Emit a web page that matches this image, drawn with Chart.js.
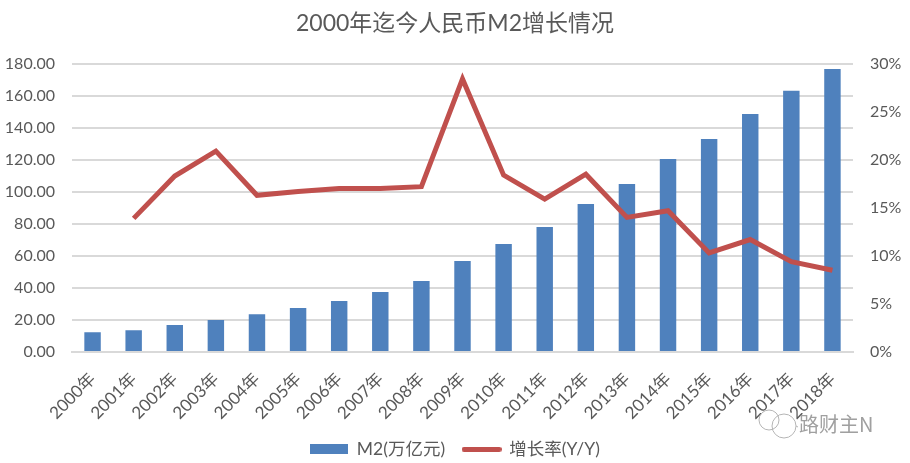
<!DOCTYPE html>
<html>
<head>
<meta charset="utf-8">
<style>
  html, body { margin: 0; padding: 0; background: #fff; }
  canvas { display: block; }
</style>
<script src="https://cdn.jsdelivr.net/npm/chart.js@4/dist/chart.umd.min.js"></script>
</head>
<body>
<canvas id="chart" width="910" height="463"></canvas>
<script>
const years = ['2000年', '2001年', '2002年', '2003年', '2004年', '2005年', '2006年', '2007年', '2008年', '2009年',
  '2010年', '2011年', '2012年', '2013年', '2014年', '2015年', '2016年', '2017年', '2018年'];
const m2 = [12.4, 13.6, 16.8, 19.9, 23.6, 27.4, 31.8, 37.4, 44.3, 56.8,
  67.4, 78.0, 92.3, 104.9, 120.5, 133.0, 148.6, 163.0, 176.7];
const growth = [null, 13.9, 18.3, 20.9, 16.3, 16.7, 17.0, 17.0, 17.2, 28.4,
  18.4, 15.9, 18.5, 14.0, 14.7, 10.3, 11.7, 9.4, 8.5];

const BLUE = '#4f81bd';
const RED = '#c0504d';
const TEXT = '#595959';
const GRID = '#d9d9d9';
const FONT = 'Lato, "Noto Sans CJK SC", sans-serif';

// legend swatches, bar and line have different heights
function swatch(w, h, color, round) {
  const c = document.createElement('canvas');
  c.width = w;
  c.height = h;
  const x = c.getContext('2d');
  x.fillStyle = color;
  x.beginPath();
  x.roundRect(0, 0, w, h, round);
  x.fill();
  return c;
}

const watermark = {
  id: 'watermark',
  afterDraw(chart) {
    const ctx = chart.ctx;
    ctx.save();
    ctx.strokeStyle = '#b5b5b5';
    ctx.lineWidth = 1;
    ctx.beginPath();
    ctx.arc(769, 420, 10, 0, Math.PI * 2);
    ctx.moveTo(798, 427);
    ctx.arc(784, 426, 12, 0, Math.PI * 2);
    ctx.stroke();
    ctx.fillStyle = '#a0a0a0';
    ctx.font = '20px "Noto Sans CJK SC", sans-serif';
    ctx.textBaseline = 'middle';
    ctx.fillText('路财主N', 799, 424);
    ctx.restore();
  }
};

new Chart(document.getElementById('chart'), {
  data: {
    labels: years,
    datasets: [
      {
        type: 'line',
        label: '增长率(Y/Y)',
        data: growth,
        yAxisID: 'y1',
        borderColor: RED,
        borderWidth: 5,
        pointRadius: 0,
        tension: 0,
        order: 0
      },
      {
        type: 'bar',
        label: 'M2(万亿元)',
        data: m2,
        yAxisID: 'y',
        backgroundColor: BLUE,
        categoryPercentage: 1,
        barPercentage: 0.4,
        order: 1
      }
    ]
  },
  options: {
    responsive: false,
    animation: false,
    font: { family: FONT },
    plugins: {
      title: {
        display: true,
        text: '2000年迄今人民币M2增长情况',
        color: TEXT,
        font: { family: FONT, size: 23, weight: 'normal' },
        padding: { top: 10, bottom: 26 }
      },
      legend: {
        position: 'bottom',
        maxHeight: 22.5,
        labels: {
          color: TEXT,
          font: { family: FONT, size: 17.5 },
          usePointStyle: true,
          pointStyleWidth: 38,
          padding: 0,
          generateLabels() {
            // padding has to stay 0 for the vertical position, so the gap between items is a wide space
            return [
              { text: 'M2(万亿元)\u3000', pointStyle: swatch(38, 10, BLUE, 0), fontColor: TEXT, datasetIndex: 1, lineWidth: 0 },
              { text: '增长率(Y/Y)', pointStyle: swatch(40, 5, RED, 2.5), fontColor: TEXT, datasetIndex: 0, lineWidth: 0 }
            ];
          }
        }
      },
      tooltip: { enabled: false }
    },
    scales: {
      x: {
        grid: { display: false },
        border: { color: GRID, width: 2 },
        ticks: {
          color: TEXT,
          font: { family: FONT, size: 17 },
          minRotation: 45,
          maxRotation: 45,
          autoSkip: false,
          padding: 9
        },
        afterFit(s) { s.height = 88.5; }
      },
      y: {
        position: 'left',
        min: 0,
        max: 180,
        grid: { color: GRID, lineWidth: 2, drawTicks: false },
        border: { display: false },
        ticks: {
          stepSize: 20,
          color: TEXT,
          font: { family: FONT, size: 16 },
          padding: 17,
          callback: v => v.toFixed(2)
        },
        afterFit(s) { s.width = 72; }
      },
      y1: {
        position: 'right',
        min: 0,
        max: 30,
        grid: { display: false, drawTicks: false },
        border: { display: false },
        ticks: {
          stepSize: 5,
          color: TEXT,
          font: { family: FONT, size: 16 },
          padding: 17,
          callback: v => v + '%'
        },
        afterFit(s) { s.width = 57; }
      }
    }
  },
  plugins: [watermark]
});
</script>
</body>
</html>
